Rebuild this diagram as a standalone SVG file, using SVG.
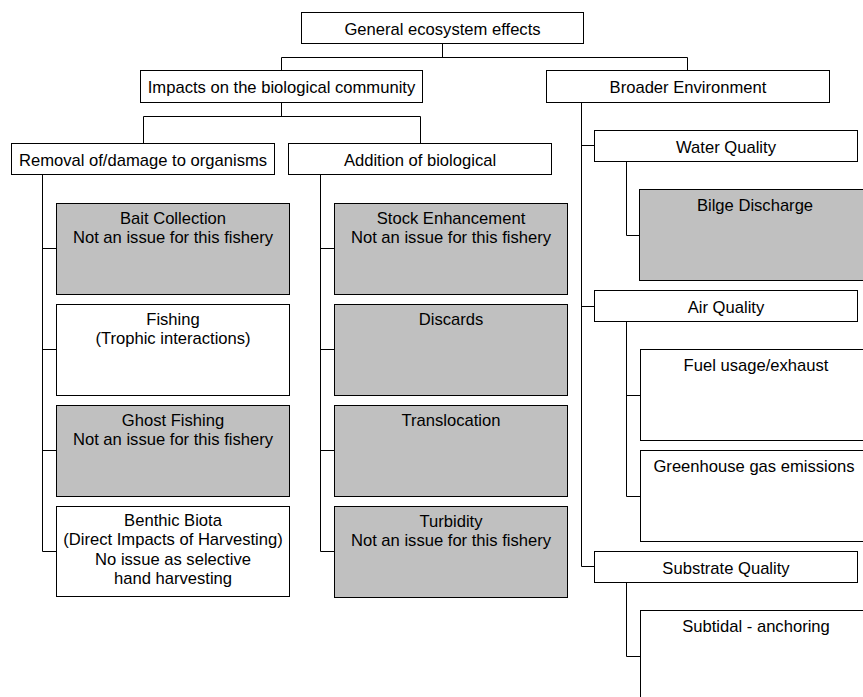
<svg xmlns="http://www.w3.org/2000/svg" width="863" height="697" viewBox="0 0 863 697">
<style>
.b{fill:#fff;stroke:#000;stroke-width:1}
.g{fill:#c0c0c0;stroke:#000;stroke-width:1}
text{font-family:"Liberation Sans",Arial,sans-serif;font-size:16.6px;fill:#000;text-anchor:middle}
.c{fill:none;stroke:#000;stroke-width:1}
</style>
<rect width="863" height="697" fill="#fff"/>
<g id="connectors" class="c">
<path d="M442.5 43.5V57.5M281.5 57.5H687.5M281.5 57.5V70.5M687.5 57.5V70.5"/>
<path d="M281.5 102.5V116.5M143.5 116.5H420.5M143.5 116.5V143.5M420.5 116.5V143.5"/>
<path d="M42.5 174.5V551.5M42.5 248.5H56.5M42.5 349.5H56.5M42.5 450.5H56.5M42.5 551.5H56.5"/>
<path d="M320.5 174.5V551.5M320.5 248.5H334.5M320.5 349.5H334.5M320.5 450.5H334.5M320.5 551.5H334.5"/>
<path d="M581.5 102.5V566.5M581.5 145.5H594.5M581.5 306.5H594.5M581.5 566.5H594.5"/>
<path d="M626.5 161.5V235.5H639.5"/>
<path d="M626.5 321.5V496.5H640.5M626.5 395.5H640.5"/>
<path d="M626.5 582.5V656.5H640.5"/>
</g>
<g id="general"><rect class="b" x="301.5" y="12.5" width="282" height="31"/><text x="442.5" y="34.5">General ecosystem effects</text></g>
<g id="impacts"><rect class="b" x="140.5" y="70.5" width="282" height="32"/><text x="281.5" y="93">Impacts on the biological community</text></g>
<g id="broader"><rect class="b" x="546.5" y="70.5" width="283" height="32"/><text x="688" y="93">Broader Environment</text></g>
<g id="removal"><rect class="b" x="11.5" y="143.5" width="263" height="31"/><text x="143" y="166">Removal of/damage to organisms</text></g>
<g id="addition"><rect class="b" x="288.5" y="143.5" width="263" height="31"/><text x="420" y="166">Addition of biological</text></g>
<g id="bait"><rect class="g" x="56.5" y="203.5" width="233" height="91"/><text x="173" y="223.7">Bait Collection</text><text x="173" y="243">Not an issue for this fishery</text></g>
<g id="fishing"><rect class="b" x="56.5" y="304.5" width="233" height="91"/><text x="173" y="324.7">Fishing</text><text x="173" y="344">(Trophic interactions)</text></g>
<g id="ghost"><rect class="g" x="56.5" y="405.5" width="233" height="91"/><text x="173" y="425.7">Ghost Fishing</text><text x="173" y="445">Not an issue for this fishery</text></g>
<g id="benthic"><rect class="b" x="56.5" y="506.5" width="233" height="90"/><text x="173" y="525.7">Benthic Biota</text><text x="173" y="545.2">(Direct Impacts of Harvesting)</text><text x="173" y="564.7">No issue as selective</text><text x="173" y="584.2">hand harvesting</text></g>
<g id="stock"><rect class="g" x="334.5" y="203.5" width="233" height="91"/><text x="451" y="223.7">Stock Enhancement</text><text x="451" y="243">Not an issue for this fishery</text></g>
<g id="discards"><rect class="g" x="334.5" y="304.5" width="233" height="91"/><text x="451" y="324.7">Discards</text></g>
<g id="translocation"><rect class="g" x="334.5" y="405.5" width="233" height="91"/><text x="451" y="425.7">Translocation</text></g>
<g id="turbidity"><rect class="g" x="334.5" y="506.5" width="233" height="91"/><text x="451" y="526.7">Turbidity</text><text x="451" y="546">Not an issue for this fishery</text></g>
<g id="water"><rect class="b" x="594.5" y="130.5" width="263" height="31"/><text x="726" y="152.5">Water Quality</text></g>
<g id="bilge"><rect class="g" x="639.5" y="189.5" width="232" height="91"/><text x="755" y="210.5">Bilge Discharge</text></g>
<g id="air"><rect class="b" x="594.5" y="290.5" width="263" height="31"/><text x="726" y="312.5">Air Quality</text></g>
<g id="fuel"><rect class="b" x="640.5" y="349.5" width="232" height="91"/><text x="756" y="370.5">Fuel usage/exhaust</text></g>
<g id="greenhouse"><rect class="b" x="640.5" y="450.5" width="232" height="91"/><text x="754" y="471.5">Greenhouse gas emissions</text></g>
<g id="substrate"><rect class="b" x="594.5" y="551.5" width="263" height="31"/><text x="726" y="573.5">Substrate Quality</text></g>
<g id="subtidal"><rect class="b" x="640.5" y="610.5" width="232" height="100"/><text x="756" y="631.5">Subtidal - anchoring</text></g>
</svg>
